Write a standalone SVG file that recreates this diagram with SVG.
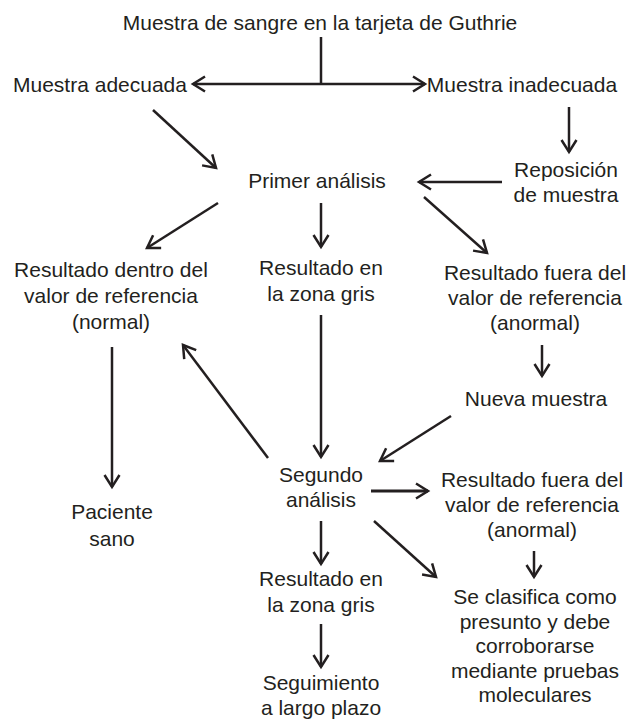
<svg xmlns="http://www.w3.org/2000/svg" width="626" height="719" viewBox="0 0 626 719">
<defs>
<marker id="ah" markerUnits="userSpaceOnUse" markerWidth="20" markerHeight="20" viewBox="-14 -10 16 20" refX="0" refY="0" orient="auto-start-reverse">
<path d="M-12,-7.5 L0,0 L-12,7.5" fill="none" stroke="#231f20" stroke-width="2.5" stroke-linejoin="miter"/>
</marker>
<style>
text{font-family:"Liberation Sans",Arial,sans-serif;font-size:21px;fill:#231f20;text-anchor:middle}
.c line{stroke:#231f20;stroke-width:2.5;fill:none}
.a{marker-end:url(#ah)}
</style>
</defs>
<rect width="626" height="719" fill="#fff"/>
<g id="n_title"><text x="320" y="30">Muestra de sangre en la tarjeta de Guthrie</text></g>
<g id="n_adecuada"><text x="100" y="92">Muestra adecuada</text></g>
<g id="n_inadecuada"><text x="522" y="92">Muestra inadecuada</text></g>
<g id="n_reposicion"><text x="566" y="177">Reposición</text><text x="566" y="202">de muestra</text></g>
<g id="n_primer"><text x="317" y="188">Primer análisis</text></g>
<g id="n_normal"><text x="111" y="277">Resultado dentro del</text><text x="111" y="303">valor de referencia</text><text x="111" y="329">(normal)</text></g>
<g id="n_gris1"><text x="321" y="275">Resultado en</text><text x="321" y="301">la zona gris</text></g>
<g id="n_anormal1"><text x="535" y="280">Resultado fuera del</text><text x="535" y="305">valor de referencia</text><text x="535" y="330">(anormal)</text></g>
<g id="n_nueva"><text x="536" y="406">Nueva muestra</text></g>
<g id="n_segundo"><text x="321" y="482">Segundo</text><text x="321" y="507">análisis</text></g>
<g id="n_anormal2"><text x="532" y="487">Resultado fuera del</text><text x="532" y="512">valor de referencia</text><text x="532" y="537">(anormal)</text></g>
<g id="n_paciente"><text x="112" y="519">Paciente</text><text x="112" y="546">sano</text></g>
<g id="n_gris2"><text x="321" y="586">Resultado en</text><text x="321" y="612">la zona gris</text></g>
<g id="n_seguimiento"><text x="321" y="690">Seguimiento</text><text x="321" y="715">a largo plazo</text></g>
<g id="n_clasifica"><text x="535" y="604">Se clasifica como</text><text x="535" y="629">presunto y debe</text><text x="535" y="653">corroborarse</text><text x="535" y="678">mediante pruebas</text><text x="535" y="702">moleculares</text></g>
<g id="connectors" class="c">
<line x1="321" y1="37" x2="321" y2="84"/>
<line x1="193" y1="84" x2="425" y2="84" class="a" marker-start="url(#ah)"/>
<line x1="153" y1="110" x2="216" y2="168" class="a"/>
<line x1="569" y1="107" x2="569" y2="152" class="a"/>
<line x1="502" y1="182" x2="419" y2="182" class="a"/>
<line x1="218" y1="203" x2="147" y2="248" class="a"/>
<line x1="321" y1="203" x2="321" y2="247" class="a"/>
<line x1="424" y1="197" x2="487" y2="253" class="a"/>
<line x1="112" y1="347" x2="112" y2="487" class="a"/>
<line x1="268" y1="458" x2="183" y2="345" class="a"/>
<line x1="321" y1="315" x2="321" y2="457" class="a"/>
<line x1="542" y1="345" x2="542" y2="376" class="a"/>
<line x1="451" y1="416" x2="380" y2="461" class="a"/>
<line x1="371" y1="491" x2="428" y2="491" class="a" style="stroke-width:3.2"/>
<line x1="321" y1="521" x2="321" y2="564" class="a"/>
<line x1="374" y1="521" x2="436" y2="577" class="a"/>
<line x1="534" y1="551" x2="534" y2="577" class="a"/>
<line x1="321" y1="624" x2="321" y2="667" class="a"/>
</g>
</svg>
